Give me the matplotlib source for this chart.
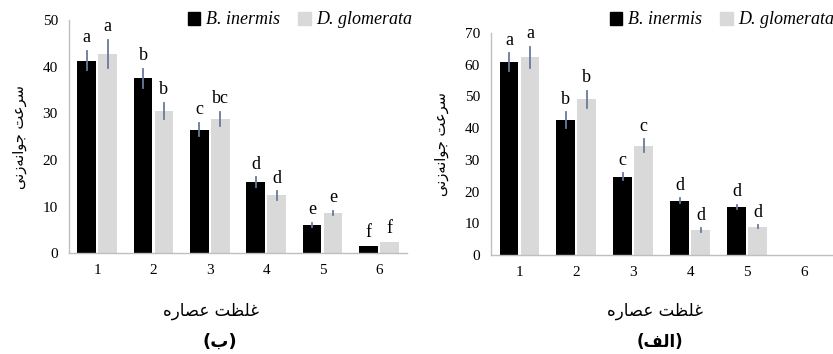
import numpy as np
import matplotlib.pyplot as plt
from matplotlib.patches import Patch

# data
conc = ['1', '2', '3', '4', '5', '6']

# (ب) left panel
b_inermis_b = [41.3, 37.5, 26.5, 15.3, 6.1, 1.6]
b_inermis_b_err = [2.1, 2.0, 1.4, 1.0, 0.4, 0.0]
d_glom_b = [42.8, 30.5, 28.8, 12.4, 8.6, 2.4]
d_glom_b_err = [3.0, 1.7, 1.5, 0.9, 0.5, 0.0]
lab_bi_b = ['a', 'b', 'c', 'd', 'e', 'f']
lab_dg_b = ['a', 'b', 'bc', 'd', 'e', 'f']

# (الف) right panel
b_inermis_a = [60.8, 42.6, 24.7, 17.1, 15.1, 0]
b_inermis_a_err = [2.9, 2.4, 1.0, 0.8, 0.7, 0]
d_glom_a = [62.4, 49.1, 34.5, 7.9, 8.9, 0]
d_glom_a_err = [3.3, 2.7, 2.0, 0.5, 0.4, 0]
lab_bi_a = ['a', 'b', 'c', 'd', 'd', '']
lab_dg_a = ['a', 'b', 'c', 'd', 'd', '']

ylabel = 'سرعت جوانه\u200cزنی'
xlabel = 'غلظت عصاره'

# minimal arabic shaping (matplotlib has no complex text layout)
FORMS = {
    'ا': (0xFE8D, 0xFE8E, None, None), 'ب': (0xFE8F, 0xFE90, 0xFE91, 0xFE92),
    'ت': (0xFE95, 0xFE96, 0xFE97, 0xFE98), 'ج': (0xFE9D, 0xFE9E, 0xFE9F, 0xFEA0),
    'ر': (0xFEAD, 0xFEAE, None, None), 'ز': (0xFEAF, 0xFEB0, None, None),
    'س': (0xFEB1, 0xFEB2, 0xFEB3, 0xFEB4), 'ص': (0xFEB9, 0xFEBA, 0xFEBB, 0xFEBC),
    'ظ': (0xFEC5, 0xFEC6, 0xFEC7, 0xFEC8), 'ع': (0xFEC9, 0xFECA, 0xFECB, 0xFECC),
    'غ': (0xFECD, 0xFECE, 0xFECF, 0xFED0), 'ف': (0xFED1, 0xFED2, 0xFED3, 0xFED4),
    'ل': (0xFEDD, 0xFEDE, 0xFEDF, 0xFEE0), 'ن': (0xFEE5, 0xFEE6, 0xFEE7, 0xFEE8),
    'ه': (0xFEE9, 0xFEEA, 0xFEEB, 0xFEEC), 'و': (0xFEED, 0xFEEE, None, None),
    'ی': (0xFEEF, 0xFEF0, 0xFEF3, 0xFEF4),
}

def shape(s):
    out = []
    for i, ch in enumerate(s):
        if ch not in FORMS:
            if ch != '\u200c':
                out.append(ch)
            continue
        iso, fin, ini, med = FORMS[ch]
        prev = s[i-1] if i > 0 else ''
        nxt = s[i+1] if i < len(s)-1 else ''
        jp = prev in FORMS and FORMS[prev][2] is not None
        jn = ini is not None and nxt in FORMS
        if jp and jn:
            c = med
        elif jp:
            c = fin
        elif jn:
            c = ini
        else:
            c = iso
        out.append(chr(c))
    return ''.join(out[::-1])

plt.rcParams['font.family'] = ['Liberation Serif', 'DejaVu Serif']

W, H = 833, 354
fig = plt.figure(figsize=(W/100, H/100), dpi=100)
ax_b = fig.add_axes([0.0828, 0.2845, 0.4058, 0.659])
ax_a = fig.add_axes([0.5894, 0.2797, 0.4100, 0.627])

x = np.arange(1, 7)
w = 0.33
ecol = '#6a7a9c'

def panel(ax, v1, e1, v2, e2, l1, l2, ymax, step, xlab_pos):
    x1 = x - w/2 - 0.02
    x2 = x + w/2 + 0.02
    ax.bar(x1, v1, w, color='black', zorder=2)
    ax.bar(x2, v2, w, color='#d9d9d9', zorder=2)
    for xs, vs, es, ls in [(x1, v1, e1, l1), (x2, v2, e2, l2)]:
        for xi, v, e, t in zip(xs, vs, es, ls):
            if e > 0:
                ax.plot([xi, xi], [v - e, v + e], color=ecol, lw=1.3, zorder=3)
            ax.text(xi, v + e + ymax * 0.02, t, ha='center', va='bottom', fontsize=13)
    ax.set_xlim(0.5, 6.5)
    ax.set_ylim(0, ymax)
    ax.set_yticks(np.arange(0, ymax + 1, step))
    ax.set_xticks(x)
    ax.set_xticklabels(conc)
    ax.tick_params(length=0, labelsize=11, pad=8)
    for s in ['top', 'right']:
        ax.spines[s].set_visible(False)
    for s in ['left', 'bottom']:
        ax.spines[s].set_color('#bfbfbf')
        ax.spines[s].set_linewidth(1.0)
    ax.set_ylabel(shape(ylabel), family='DejaVu Sans', fontsize=10.5, labelpad=11)
    ax.set_xlabel(shape(xlabel), family='DejaVu Sans', fontsize=12, labelpad=14)
    ax.xaxis.set_label_coords(xlab_pos, -0.21)

panel(ax_b, b_inermis_b, b_inermis_b_err, d_glom_b, d_glom_b_err,
      lab_bi_b, lab_dg_b, 50, 10, 0.42)
panel(ax_a, b_inermis_a, b_inermis_a_err, d_glom_a, d_glom_a_err,
      lab_bi_a, lab_dg_a, 70, 10, 0.48)

fig.text(220/W, 1 - 342/H, '(' + shape('ب') + ')', ha='center', va='center',
         family='DejaVu Sans', fontsize=13, fontweight='bold')
fig.text(660/W, 1 - 342/H, '(' + shape('الف') + ')', ha='center', va='center',
         family='DejaVu Sans', fontsize=12, fontweight='bold')

for xr in [412/W, 834/W]:
    h = [Patch(color='black'), Patch(color='#d9d9d9')]
    fig.legend(h, ['B. inermis', 'D. glomerata'], loc='center right',
               bbox_to_anchor=(xr, 1 - 20/H), ncol=2, frameon=False,
               handlelength=0.7, handleheight=0.7, handletextpad=0.3,
               columnspacing=1.0, borderaxespad=0, borderpad=0,
               prop={'family': 'Liberation Serif', 'style': 'italic', 'size': 13})

fig.savefig('out.png', dpi=100)
